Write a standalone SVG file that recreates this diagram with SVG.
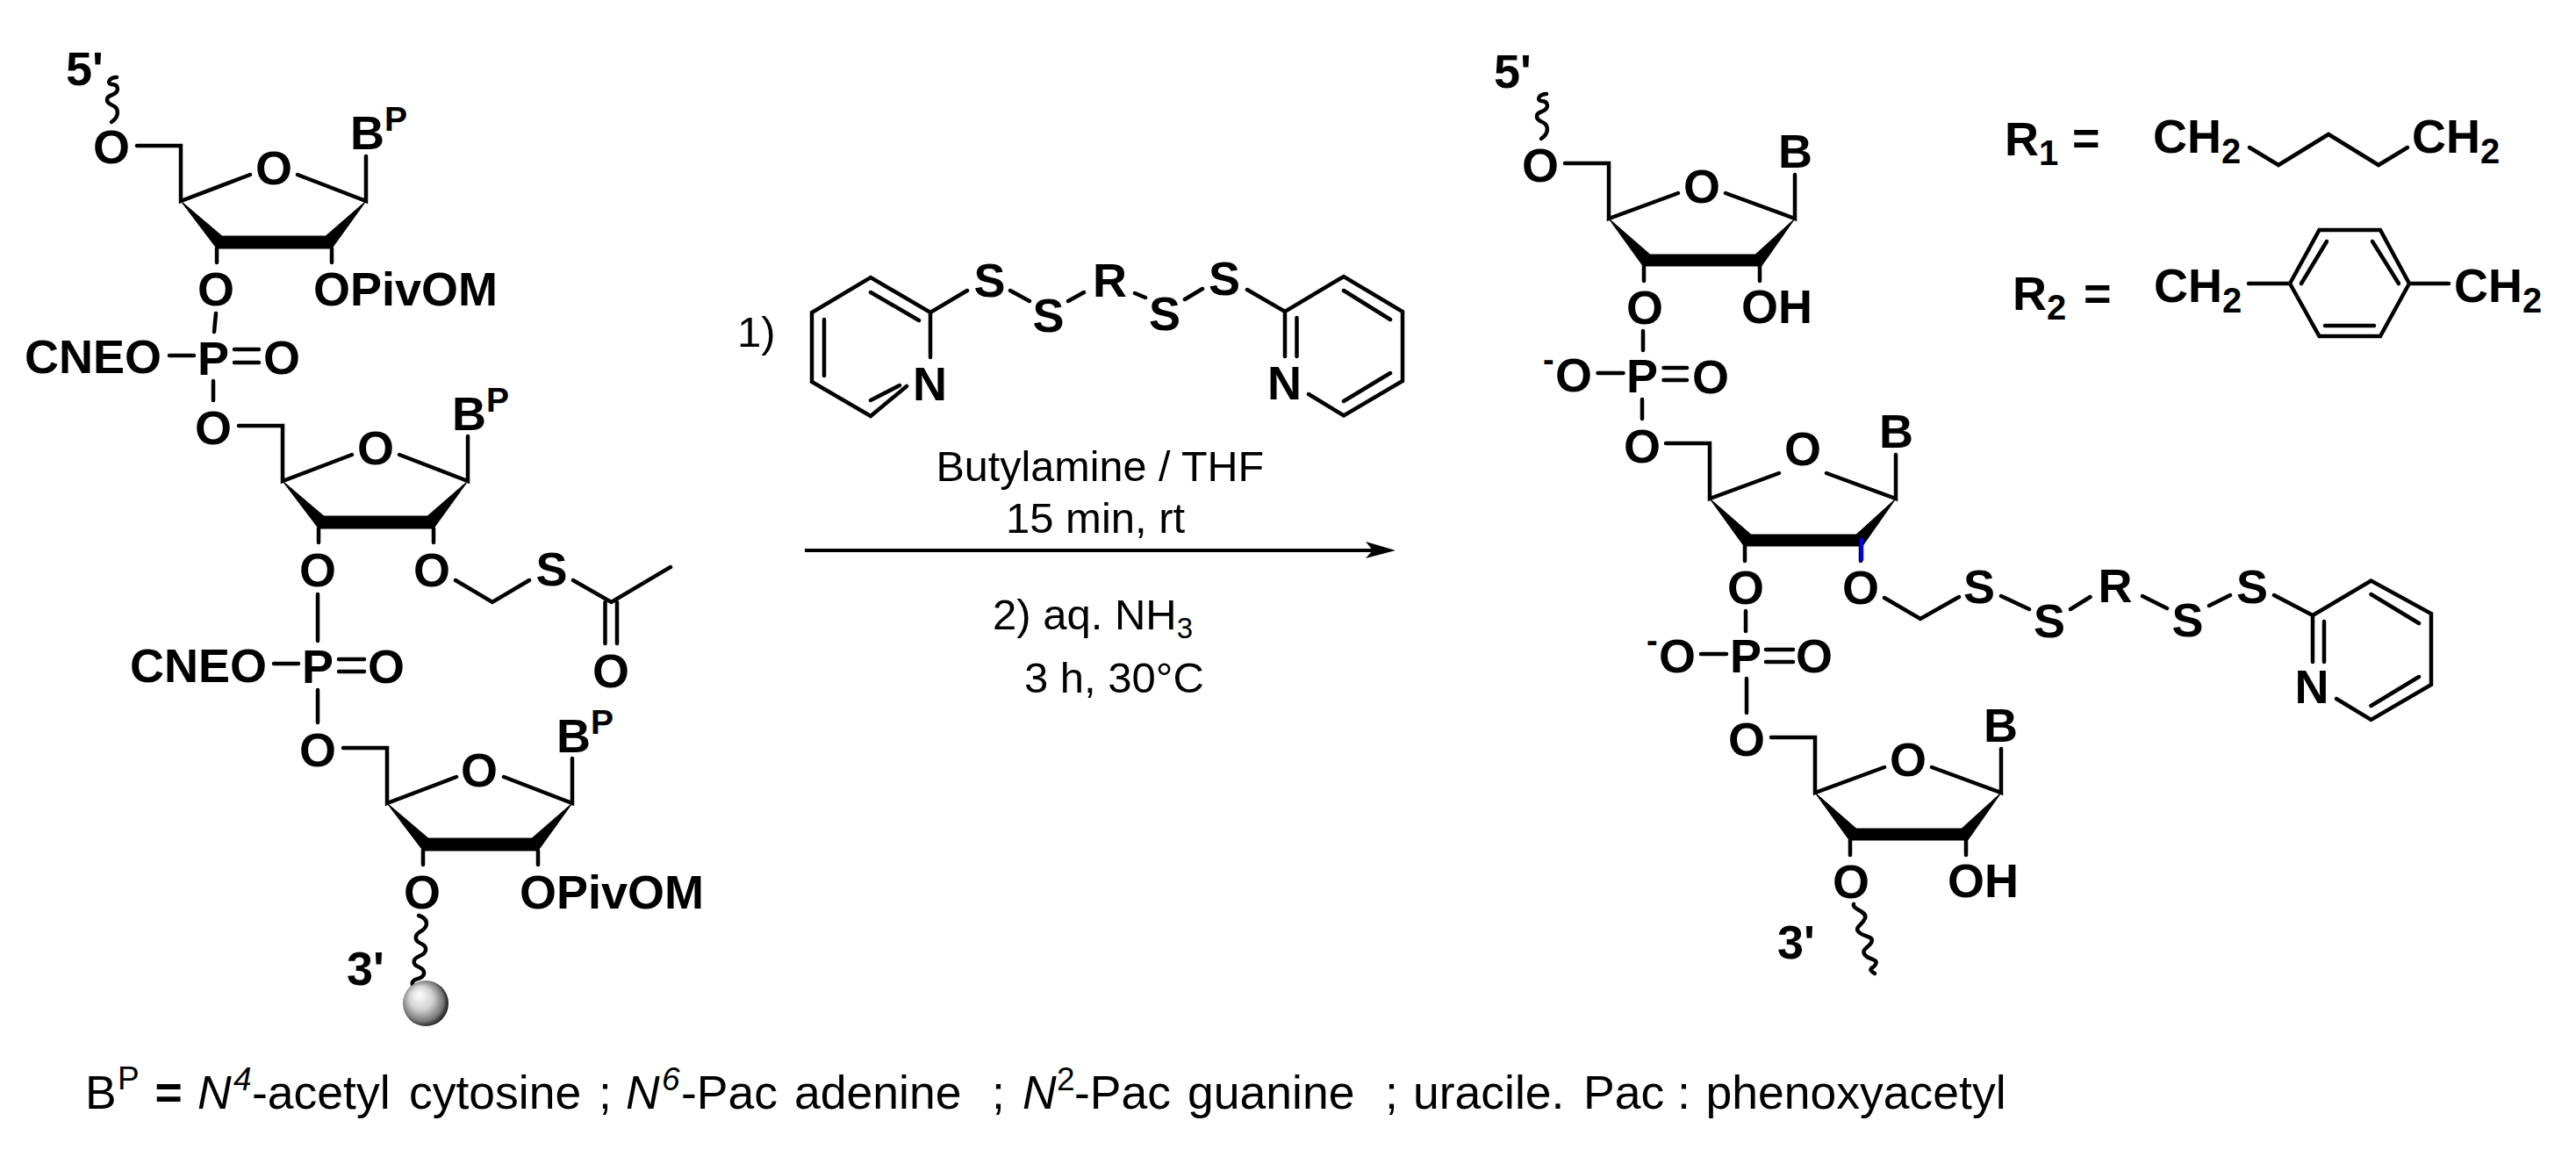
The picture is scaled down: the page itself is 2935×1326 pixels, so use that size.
<svg xmlns="http://www.w3.org/2000/svg" xmlns:xlink="http://www.w3.org/1999/xlink" width="2935" height="1326" viewBox="0 0 2935 1326">
<style>
text{font-family:"Liberation Sans",Arial,sans-serif;fill:#000}
.a{font-size:54px;font-weight:bold}
.m{text-anchor:middle}
.s{font-size:39px;font-weight:bold}
.n{font-size:38px;font-weight:bold}
.r{font-size:49px}
.f{font-size:53.500px}
.fs{font-size:37px}
.i{font-style:italic}
.b{fill:none;stroke:#000;stroke-width:4.500;stroke-linecap:round;stroke-linejoin:miter}
.w{fill:#000;stroke:#000;stroke-width:1;stroke-linejoin:miter}
</style>
<defs>
<radialGradient id="bead" cx="0.45" cy="0.48" r="0.56" fx="0.35" fy="0.3">
<stop offset="0" stop-color="#fff"/><stop offset="0.45" stop-color="#d4d4d4"/><stop offset="0.8" stop-color="#7a7a7a"/><stop offset="1" stop-color="#111"/>
</radialGradient>
<g id="ringL">
<path class="b" d="M156 166H206V229L285 199M339 199L417 229V178M247 283V299M378 283V299"/>
<path class="w" d="M206 229L253 269H371L417 229L378 283H247Z"/>
</g>
<g id="ringR">
<path class="b" d="M1783 186H1833V249L1912 220M1966 220L2045 249V199M1873 303V320M2005 303V320"/>
<path class="w" d="M1833 249L1880 290H2000L2045 249L2007 303H1872Z"/>
</g>
<path id="wave5" class="b" d="M127 139C136 133 136 123 128 120C119 116 121 110 128 108C137 104 135 96 127 96C121 95 125 88 133 88"/>
</defs>
<rect width="2935" height="1326" fill="#fff"/>
<g id="connectors">
<use xlink:href="#ringL"/>
<use xlink:href="#ringL" transform="translate(116 319)"/>
<use xlink:href="#ringL" transform="translate(235 686)"/>
<use xlink:href="#ringR"/>
<use xlink:href="#ringR" transform="translate(115 319)"/>
<use xlink:href="#ringR" transform="translate(235 654)"/>
<use xlink:href="#wave5"/>
<use xlink:href="#wave5" transform="translate(1629 19)"/>
<path class="b" d="M477 1043C487 1046 489 1054 481 1060C471 1065 472 1072 480 1075C488 1079 486 1086 478 1089C469 1093 470 1099 478 1102C486 1106 484 1113 476 1115C471 1116 469 1119 470 1122"/>
<path class="b" d="M2112 1030C2110 1036 2128 1038 2125 1046C2122 1054 2112 1056 2118 1062C2124 1068 2136 1066 2132 1074C2128 1080 2120 1082 2125 1088C2130 1094 2142 1092 2136 1100C2132 1104 2128 1104 2136 1109"/>
<path class="b" d="M246 357L244 378M193 405H221M267 398H295M267 413H295M243 434V456"/>
<path class="b" d="M362 677V730M312 756H340M386 751H415M386 765H415M362 786V823"/>
<path class="b" d="M519 661L561 686L603 661M653 661L696.500 686L764 646M689.500 686V733M703 686V733"/>
<path class="b" d="M1060 356V407M1033 440L992 474L925 435V356L992 316L1060 356L1102 331M992 333L1047 365M939 364V428M992 456L1025 439"/>
<path class="b" d="M1151 331L1173 343M1217 343L1235 333M1293 334L1305 339M1350 341L1370 329"/>
<path class="b" d="M1421 330L1464 355L1531 315L1598 355V434L1531 473.500L1491 449M1464 355V406M1477.500 362V406M1531 331L1584 364M1584 425L1531 457"/>
<path d="M917 627H1570" fill="none" stroke="#000" stroke-width="4"/>
<path d="M1590 627L1556 617L1564 627L1556 636Z" fill="#000"/>
<path class="b" d="M1872 377V399M1820.500 425H1849.500M1895.500 419H1922M1895.500 433H1922M1871 455V477"/>
<path class="b" d="M1989 696V719M1938 745H1967M2012 740H2043M2012 754H2043M1990 773V812"/>
<path d="M2121 613V639" fill="none" stroke="#0000e0" stroke-width="4.500"/>
<path class="b" d="M2147 681L2188 705L2232 680M2280 679L2312 694M2359 694L2381.500 680M2441 679L2469 693M2517 690L2541 678M2591 678L2635 701"/>
<path class="b" d="M2635 701L2701.500 661.600L2770 699V780L2701.500 820L2662 796M2635 701V754M2648 708V754M2701.500 677L2756 710M2756 771L2701.500 804"/>
<path class="b" d="M2563 168L2596 188L2653 153L2710 188L2743 168"/>
<path class="b" d="M2562 323H2609L2642.500 262H2712L2745 323L2712 383H2642.500L2609 323M2745 323H2790M2622 323L2651 275M2703 275L2733 323M2649 371H2705"/>
</g>
<g id="substrate">
<text class="a" x="75" y="97">5'</text>
<text class="a m" x="127" y="186">O</text>
<text class="a m" x="312" y="210">O</text>
<text class="a" x="399" y="170">B</text><text class="s" x="438" y="149">P</text>
<text class="a m" x="246" y="348">O</text><text class="a" x="357" y="348">OPivOM</text>
<text class="a" x="28" y="425">CNEO</text><text class="a m" x="243" y="426.500">P</text><text class="a m" x="321" y="426">O</text>
<text class="a m" x="243" y="505.500">O</text>
<text class="a m" x="428" y="529">O</text>
<text class="a" x="515" y="490">B</text><text class="s" x="554" y="469">P</text>
<text class="a m" x="362" y="668">O</text><text class="a m" x="492" y="668">O</text><text class="a m" x="628.500" y="667">S</text>
<text class="a m" x="696" y="783">O</text>
<text class="a" x="148" y="777">CNEO</text><text class="a m" x="362" y="778">P</text><text class="a m" x="440" y="778">O</text>
<text class="a m" x="362" y="873">O</text>
<text class="a m" x="546" y="896">O</text>
<text class="a" x="634" y="857">B</text><text class="s" x="673" y="836">P</text>
<text class="a m" x="481" y="1035">O</text><text class="a" x="592" y="1035">OPivOM</text>
<text class="a" x="395" y="1122">3'</text>
<ellipse id="solid-support" cx="485" cy="1143" rx="26" ry="26" fill="url(#bead)"/>
</g>
<g id="reagent">
<text class="r" x="840" y="395">1)</text>
<text class="a m" x="1127.500" y="338">S</text><text class="a m" x="1194.500" y="378">S</text><text class="a m" x="1264.500" y="338">R</text><text class="a m" x="1327" y="376">S</text><text class="a m" x="1395" y="336">S</text>
<text class="a m" x="1059.500" y="456">N</text><text class="a m" x="1463.500" y="455">N</text>
</g>
<g id="conditions">
<text class="r" x="1066.500" y="548" font-size="48.500" style="font-size:48.500px">Butylamine / THF</text>
<text class="r" x="1146" y="607">15 min, rt</text>
<text class="r" x="1131" y="717">2) aq. NH<tspan font-size="33" dy="10">3</tspan></text>
<text class="r" x="1167" y="789">3 h, 30°C</text>
</g>
<g id="product">
<text class="a" x="1702" y="100">5'</text>
<text class="a m" x="1755" y="207">O</text>
<text class="a m" x="1939" y="231">O</text>
<text class="a" x="2026" y="191">B</text>
<text class="a m" x="1874" y="369">O</text><text class="a" x="1984" y="368">OH</text>
<text class="n" x="1758" y="423">-</text><text class="a m" x="1793" y="446">O</text>
<text class="a m" x="1871" y="447">P</text><text class="a m" x="1949" y="448">O</text>
<text class="a m" x="1871" y="527">O</text>
<text class="a m" x="2054" y="530">O</text>
<text class="a" x="2141" y="510">B</text>
<text class="a m" x="1989" y="688">O</text><text class="a m" x="2120" y="688">O</text>
<text class="a m" x="2255" y="687">S</text><text class="a m" x="2335" y="726">S</text><text class="a m" x="2410" y="686">R</text><text class="a m" x="2492.500" y="725">S</text><text class="a m" x="2566" y="687">S</text>
<text class="a m" x="2634" y="801">N</text>
<text class="n" x="1876" y="743">-</text><text class="a m" x="1911" y="766">O</text>
<text class="a m" x="1989" y="765.500">P</text><text class="a m" x="2067" y="766">O</text>
<text class="a m" x="1990" y="861">O</text>
<text class="a m" x="2174" y="884">O</text>
<text class="a" x="2260" y="845">B</text>
<text class="a m" x="2109" y="1023">O</text><text class="a" x="2219" y="1022">OH</text>
<text class="a" x="2025" y="1092">3'</text>
</g>
<g id="r-definitions">
<text class="a" x="2284" y="177">R<tspan font-size="40" dy="11">1</tspan></text>
<text class="a" x="2361" y="176">=</text>
<text class="a" x="2453" y="174">CH<tspan font-size="40" dy="12">2</tspan></text>
<text class="a" x="2748" y="174">CH<tspan font-size="40" dy="12">2</tspan></text>
<text class="a" x="2293" y="353">R<tspan font-size="40" dy="11">2</tspan></text>
<text class="a" x="2374" y="353">=</text>
<text class="a" x="2454" y="344">CH<tspan font-size="40" dy="12">2</tspan></text>
<text class="a" x="2796" y="344">CH<tspan font-size="40" dy="12">2</tspan></text>
</g>
<g id="footnote">
<text class="f" x="97" y="1263">B</text><text class="fs" x="134" y="1241">P</text>
<text class="f" x="176.500" y="1263" font-weight="bold">=</text>
<text class="f i" x="225" y="1263">N</text><text class="fs i" x="266" y="1241.500">4</text>
<text class="f" x="287" y="1263">-acetyl</text><text class="f" x="466" y="1263">cytosine</text><text class="f" x="682" y="1263">;</text>
<text class="f i" x="713" y="1263">N</text><text class="fs i" x="754" y="1241.500">6</text>
<text class="f" x="776" y="1263">-Pac</text><text class="f" x="905" y="1263">adenine</text>
<text class="f" x="1130" y="1263">;</text>
<text class="f i" x="1165" y="1263">N</text><text class="fs" x="1204" y="1241.500">2</text>
<text class="f" x="1224" y="1263">-Pac</text><text class="f" x="1353" y="1263">guanine</text>
<text class="f" x="1578" y="1263">;</text>
<text class="f" x="1610" y="1263">uracile.</text>
<text class="f" x="1804" y="1263">Pac</text><text class="f" x="1911" y="1263">:</text>
<text class="f" x="1943.500" y="1263">phenoxyacetyl</text>
</g>
</svg>
